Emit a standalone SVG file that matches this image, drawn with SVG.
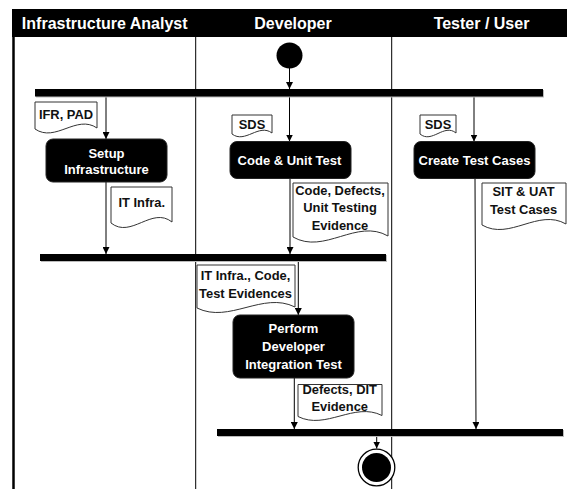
<svg xmlns="http://www.w3.org/2000/svg" width="567" height="489" viewBox="0 0 567 489">
<style>
.hdr{font-family:"Liberation Sans",Arial,sans-serif;font-weight:bold;font-size:16px;fill:#fff;text-anchor:middle}
.act{fill:#000;stroke:#222;stroke-width:1}
.actt{font-family:"Liberation Sans",Arial,sans-serif;font-weight:bold;font-size:13px;fill:#fff;text-anchor:middle}
.doc{fill:#fff;stroke:#333;stroke-width:1}
.doct{font-family:"Liberation Sans",Arial,sans-serif;font-weight:bold;font-size:12.9px;fill:#111;text-anchor:middle}
.bar{fill:#000}
.barsh{fill:#bbb}
.lane{stroke:#000;stroke-width:1;fill:none}
.conn{stroke:#000;stroke-width:1;fill:none;marker-end:url(#ah)}
</style>
<defs>
<marker id="ah" viewBox="0 0 8 8" refX="8" refY="4" markerWidth="7" markerHeight="7" markerUnits="userSpaceOnUse" orient="auto">
<path d="M0,0 L8,4 L0,8 Z" fill="#000"/>
</marker>
</defs>
<rect width="567" height="489" fill="#fff"/>
<g id="lanes">
<rect x="12" y="9" width="555" height="28" fill="#000"/>
<text class="hdr" x="104.7" y="29">Infrastructure Analyst</text>
<text class="hdr" x="293" y="29">Developer</text>
<text class="hdr" x="481.5" y="29">Tester / User</text>
<line class="lane" x1="13.5" y1="37" x2="13.5" y2="489" style="stroke-width:2.5"/>
<line class="lane" x1="195.7" y1="37" x2="195.7" y2="489"/>
<line class="lane" x1="391.7" y1="37" x2="391.7" y2="489"/>
</g>
<g id="connectors">
<line class="conn" x1="289.5" y1="68" x2="289.5" y2="89"/>
<line class="conn" x1="106" y1="96" x2="106" y2="139"/>
<line class="conn" x1="289.5" y1="96" x2="289.5" y2="141.5"/>
<line class="conn" x1="474" y1="96" x2="474" y2="141.5"/>
<line class="conn" x1="106" y1="182" x2="106" y2="254"/>
<line class="conn" x1="290" y1="178.5" x2="290" y2="254"/>
<line class="conn" x1="298.3" y1="261" x2="298.3" y2="315"/>
<line class="conn" x1="294.3" y1="378" x2="294.3" y2="429"/>
<line class="conn" x1="475" y1="178.5" x2="476" y2="429"/>
<line class="conn" x1="376.7" y1="436" x2="376.7" y2="448.5"/>
</g>
<g id="start">
<circle cx="289.5" cy="55.5" r="13" fill="#000"/>
</g>
<g id="fork1">
<rect class="barsh" x="36" y="90" width="508" height="7.5"/>
<rect class="bar" x="35" y="89" width="508" height="7.5"/>
</g>
<g id="doc-ifr-pad">
<path class="doc" d="M35,102 H97 V128 C76.5,114 55.5,143 35,129 Z"/>
<text class="doct" x="66" y="119">IFR, PAD</text>
</g>
<g id="doc-sds-dev">
<path class="doc" d="M232,115 H272 V133 C258.8,123 245.2,144 232,134 Z"/>
<text class="doct" x="252" y="128.5">SDS</text>
</g>
<g id="doc-sds-tester">
<path class="doc" d="M420,115 H456 V133 C444.1,123 431.9,144 420,134 Z"/>
<text class="doct" x="438" y="128.5">SDS</text>
</g>
<g id="setup-infrastructure">
<rect class="act" x="46" y="139" width="121" height="43" rx="7"/>
<text class="actt" x="106.5" y="157.5">Setup</text>
<text class="actt" x="106.5" y="174">Infrastructure</text>
</g>
<g id="code-unit-test">
<rect class="act" x="230" y="141.5" width="121" height="37" rx="7"/>
<text class="actt" x="289.5" y="165">Code &amp; Unit Test</text>
</g>
<g id="create-test-cases">
<rect class="act" x="414" y="141.5" width="121" height="37" rx="7"/>
<text class="actt" x="474.5" y="165">Create Test Cases</text>
</g>
<g id="doc-it-infra">
<path class="doc" d="M111,187 H172 V222 C151.9,206 131.1,239 111,223 Z"/>
<text class="doct" x="141.7" y="207">IT Infra.</text>
</g>
<g id="doc-code-defects">
<path class="doc" d="M293,183 H388 V236 C356.7,218 324.4,255 293,237 Z"/>
<text class="doct" x="340" y="195">Code, Defects,</text>
<text class="doct" x="340" y="212">Unit Testing</text>
<text class="doct" x="340" y="229.5">Evidence</text>
</g>
<g id="doc-sit-uat">
<path class="doc" d="M482,183 H566 V224 C538.3,208 509.7,241 482,225 Z"/>
<text class="doct" x="523.5" y="196">SIT &amp; UAT</text>
<text class="doct" x="523.5" y="214">Test Cases</text>
</g>
<g id="join1">
<rect class="barsh" x="41" y="255" width="346" height="7"/>
<rect class="bar" x="40" y="254" width="346" height="7"/>
</g>
<g id="doc-it-infra-code">
<path class="doc" d="M197,265 H295 V307 C262.7,291 229.3,324 197,308 Z"/>
<text class="doct" x="245.5" y="280">IT Infra., Code,</text>
<text class="doct" x="245.5" y="297.5">Test Evidences</text>
</g>
<g id="perform-dit">
<rect class="act" x="233" y="315" width="121" height="63" rx="7"/>
<text class="actt" x="293.5" y="332.5">Perform</text>
<text class="actt" x="293.5" y="350.5">Developer</text>
<text class="actt" x="293.5" y="368.5">Integration Test</text>
</g>
<g id="doc-defects-dit">
<path class="doc" d="M298,384.5 H382 V415.5 C354.3,401.5 325.7,430.5 298,416.5 Z"/>
<text class="doct" x="339.7" y="393.5">Defects, DIT</text>
<text class="doct" x="339.7" y="411">Evidence</text>
</g>
<g id="join2">
<rect class="barsh" x="218" y="430" width="346" height="7"/>
<rect class="bar" x="217" y="429" width="346" height="7"/>
</g>
<g id="end">
<circle cx="376.5" cy="467.5" r="18.3" fill="#fff" stroke="#000" stroke-width="1.3"/>
<circle cx="376.5" cy="467.5" r="14.5" fill="#000"/>
</g>
</svg>
